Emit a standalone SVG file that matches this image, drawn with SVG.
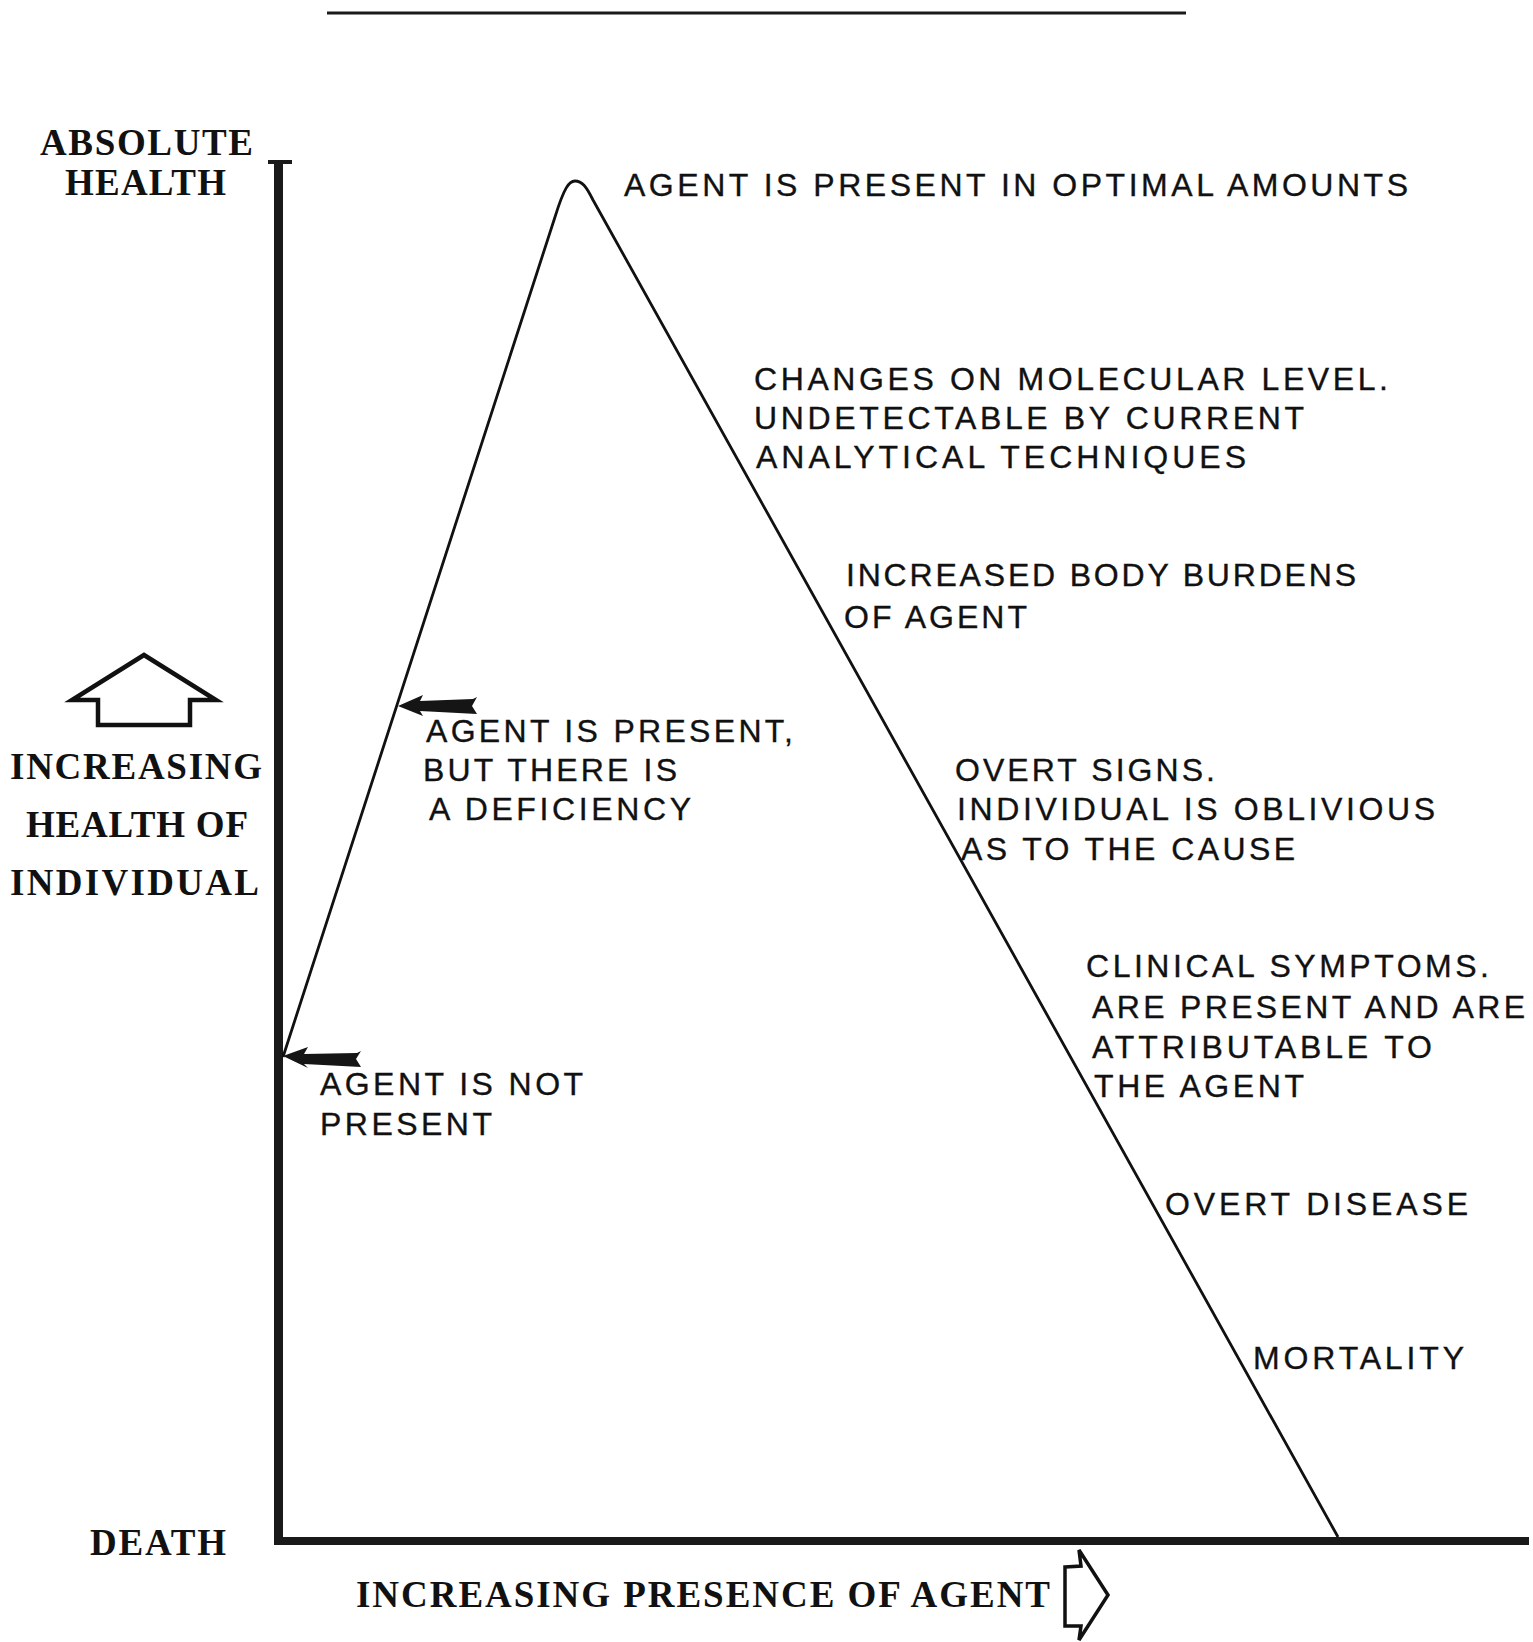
<svg xmlns="http://www.w3.org/2000/svg" width="1533" height="1642" viewBox="0 0 1533 1642">
<style>
.serif{font-family:"Liberation Serif","Times New Roman",serif;font-weight:bold;font-size:37px;fill:#111;}
.sans{font-family:"Liberation Sans",Arial,sans-serif;font-size:32px;fill:#111;stroke:#111;stroke-width:0.35;}
.axis{fill:#1a1a1a;}
.curve{fill:none;stroke:#111;stroke-width:2.8;stroke-linejoin:round;}
.hollow{fill:#fff;stroke:#111;stroke-width:4.5;stroke-linejoin:miter;}
.pointer{fill:#151515;}
</style>
<rect width="1533" height="1642" fill="#fff"/>
<g id="top-rule"><rect x="327" y="11.5" width="859" height="3" class="axis"/></g>
<g id="axes">
  <rect x="274" y="163" width="9" height="1380" class="axis"/>
  <rect x="268" y="160" width="24" height="4" class="axis"/>
  <rect x="274" y="1537" width="1255" height="8" class="axis"/>
</g>
<g id="curve">
  <path class="curve" d="M283,1057 L555,217 C564,188 569,181 575,181 C582,181 586,186 593,200 L1338,1537"/>
</g>
<g id="y-axis-labels">
  <text class="serif" x="40" y="155" textLength="213" lengthAdjust="spacing">ABSOLUTE</text>
  <text class="serif" x="65" y="195" textLength="161" lengthAdjust="spacing">HEALTH</text>
  <text class="serif" x="90" y="1555" textLength="136" lengthAdjust="spacing">DEATH</text>
</g>
<g id="y-axis-title">
  <polygon class="hollow" points="144,655 216,700 190,700 190,725 98,725 98,700 72,700"/>
  <text class="serif" x="10" y="779" textLength="252" lengthAdjust="spacing">INCREASING</text>
  <text class="serif" x="26" y="837" textLength="222" lengthAdjust="spacing">HEALTH OF</text>
  <text class="serif" x="10" y="895" textLength="249" lengthAdjust="spacing">INDIVIDUAL</text>
</g>
<g id="x-axis-title">
  <text class="serif" x="356" y="1607" textLength="694" lengthAdjust="spacing">INCREASING PRESENCE OF AGENT</text>
  <polygon points="1065,1567 1081,1566 1079,1550 1108,1595 1079,1640 1081,1626 1065,1626" fill="#fff" stroke="#111" stroke-width="3.5" stroke-linejoin="miter"/>
</g>
<g id="connectors">
  <polygon class="pointer" points="398,706 423,695 420,701 473,699 477,697 472,706 477,714 420,711 423,716"/>
  <polygon class="pointer" points="283,1056 308,1047 304,1054 357,1053 361,1051 356,1059 361,1067 304,1064 308,1068"/>
</g>
<g id="node-optimal">
  <text class="sans" x="624" y="196" textLength="784" lengthAdjust="spacing">AGENT IS PRESENT IN OPTIMAL AMOUNTS</text>
</g>
<g id="node-molecular">
  <text class="sans" x="754" y="390" textLength="634" lengthAdjust="spacing">CHANGES ON MOLECULAR LEVEL.</text>
  <text class="sans" x="754" y="429" textLength="550" lengthAdjust="spacing">UNDETECTABLE BY CURRENT</text>
  <text class="sans" x="756" y="468" textLength="490" lengthAdjust="spacing">ANALYTICAL TECHNIQUES</text>
</g>
<g id="node-body-burdens">
  <text class="sans" x="846" y="586" textLength="510" lengthAdjust="spacing">INCREASED BODY BURDENS</text>
  <text class="sans" x="844" y="628" textLength="183" lengthAdjust="spacing">OF AGENT</text>
</g>
<g id="node-deficiency">
  <text class="sans" x="426" y="742" textLength="367" lengthAdjust="spacing">AGENT IS PRESENT,</text>
  <text class="sans" x="423" y="781" textLength="254" lengthAdjust="spacing">BUT THERE IS</text>
  <text class="sans" x="429" y="820" textLength="262" lengthAdjust="spacing">A DEFICIENCY</text>
</g>
<g id="node-overt-signs">
  <text class="sans" x="955" y="781" textLength="260" lengthAdjust="spacing">OVERT SIGNS.</text>
  <text class="sans" x="957" y="820" textLength="478" lengthAdjust="spacing">INDIVIDUAL IS OBLIVIOUS</text>
  <text class="sans" x="961" y="860" textLength="334" lengthAdjust="spacing">AS TO THE CAUSE</text>
</g>
<g id="node-clinical">
  <text class="sans" x="1086" y="977" textLength="403" lengthAdjust="spacing">CLINICAL SYMPTOMS.</text>
  <text class="sans" x="1092" y="1018" textLength="433" lengthAdjust="spacing">ARE PRESENT AND ARE</text>
  <text class="sans" x="1092" y="1058" textLength="340" lengthAdjust="spacing">ATTRIBUTABLE TO</text>
  <text class="sans" x="1094" y="1097" textLength="210" lengthAdjust="spacing">THE AGENT</text>
</g>
<g id="node-not-present">
  <text class="sans" x="320" y="1095" textLength="263" lengthAdjust="spacing">AGENT IS NOT</text>
  <text class="sans" x="320" y="1135" textLength="172" lengthAdjust="spacing">PRESENT</text>
</g>
<g id="node-overt-disease">
  <text class="sans" x="1165" y="1215" textLength="303" lengthAdjust="spacing">OVERT DISEASE</text>
</g>
<g id="node-mortality">
  <text class="sans" x="1253" y="1369" textLength="211" lengthAdjust="spacing">MORTALITY</text>
</g>
</svg>
